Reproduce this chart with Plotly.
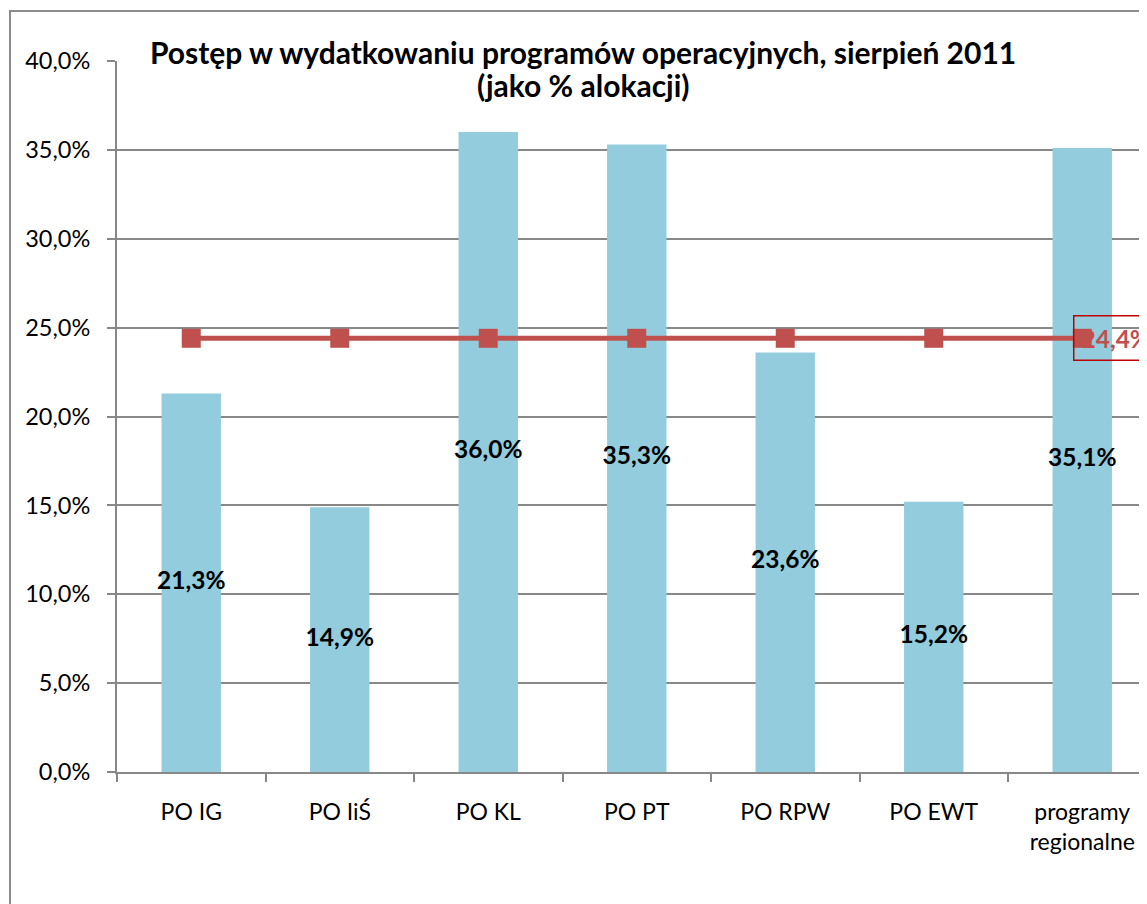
import plotly.graph_objects as go

categories = ["PO IG", "PO IiŚ", "PO KL", "PO PT", "PO RPW", "PO EWT", "programy<br>regionalne"]
values = [21.3, 14.9, 36.0, 35.3, 23.6, 15.2, 35.1]
average = [24.4, 24.4, 24.4, 24.4, 24.4, 24.4, 24.4]
y_ticks = [0, 5, 10, 15, 20, 25, 30, 35, 40]
y_tick_labels = ["0,0%", "5,0%", "10,0%", "15,0%", "20,0%", "25,0%", "30,0%", "35,0%", "40,0%"]

BAR = "#93CDDD"
RED = "#C0504D"
GRID = "#888888"
FONT = "Lato"

# page offset (default body margin) = 8px
OFF = 8
PL, PT, PB, PR = 117, 61, 772, 1147   # plot area in page pixels
PW, PH = PR - PL, PB - PT

def pl(v):
    return f"{v:.1f}%".replace(".", ",")

fig = go.Figure()
fig.add_trace(go.Bar(
    x=categories, y=values, marker=dict(color=BAR, line=dict(width=0)),
    width=0.4, hoverinfo="skip", showlegend=False,
))
# bar value labels, centred in each bar (allowed to overflow the bar width)
fig.add_trace(go.Scatter(
    x=categories, y=[v / 2 for v in values], mode="text",
    text=[pl(v) for v in values], textposition="middle center",
    textfont=dict(family=FONT, size=24.5, color="black", weight="bold"),
    hoverinfo="skip", showlegend=False, cliponaxis=False,
))
fig.add_trace(go.Scatter(
    x=categories, y=average, mode="lines+markers",
    line=dict(color=RED, width=5),
    marker=dict(symbol="square", size=19, color=RED),
    cliponaxis=False, showlegend=False, hoverinfo="skip",
))

fig.add_annotation(
    x=categories[-1], y=average[-1], xref="x", yref="y",
    text=pl(average[-1]), showarrow=False, xanchor="left", yanchor="middle",
    xshift=-9, font=dict(family=FONT, size=24.5, color=RED, weight="bold"),
    bordercolor="#C00000", borderwidth=1.5, borderpad=7, bgcolor="rgba(0,0,0,0)",
)

title_font = dict(family=FONT, size=30, color="black", weight="bold")
fig.add_annotation(text="Postęp w wydatkowaniu programów operacyjnych, sierpień 2011",
                   xref="paper", yref="paper", x=(583 - PL) / PW, y=(PB - 52) / PH,
                   showarrow=False, xanchor="center", yanchor="middle", font=title_font)
fig.add_annotation(text="(jako % alokacji)",
                   xref="paper", yref="paper", x=(583 - PL) / PW, y=(PB - 85) / PH,
                   showarrow=False, xanchor="center", yanchor="middle", font=title_font)

# outer chart border
fig.add_shape(type="rect", xref="paper", yref="paper",
              x0=(10 - PL) / PW, x1=(1170 - PL) / PW,
              y0=(PB - 930) / PH, y1=(PB - 11) / PH,
              line=dict(color="#8C8C8C", width=2), fillcolor="rgba(0,0,0,0)", layer="below")

fig.update_layout(
    width=1147 - OFF, height=904 - OFF,
    margin=dict(l=PL - OFF, r=0, t=PT - OFF, b=904 - PB),
    paper_bgcolor="white", plot_bgcolor="white",
    font=dict(family=FONT, size=20, color="black"),
    bargap=0.6,
)
fig.update_xaxes(
    range=[-0.5, -0.5 + PW / 148.5], tickson="boundaries",
    ticks="outside", ticklen=8, tickcolor=GRID, tickwidth=2,
    showline=True, linecolor=GRID, linewidth=2, showgrid=False,
    tickfont=dict(family=FONT, size=23, color="black"), ticklabelstandoff=18,
)
fig.update_yaxes(
    range=[0, 40], tickvals=y_ticks, ticktext=y_tick_labels,
    ticks="outside", ticklen=8, tickcolor=GRID, tickwidth=2,
    showline=True, linecolor=GRID, linewidth=2,
    showgrid=True, gridcolor=GRID, gridwidth=2,
    tickfont=dict(family=FONT, size=23.5, color="black"), ticklabelstandoff=12,
    zeroline=False,
)

fig.write_html("out.html")
